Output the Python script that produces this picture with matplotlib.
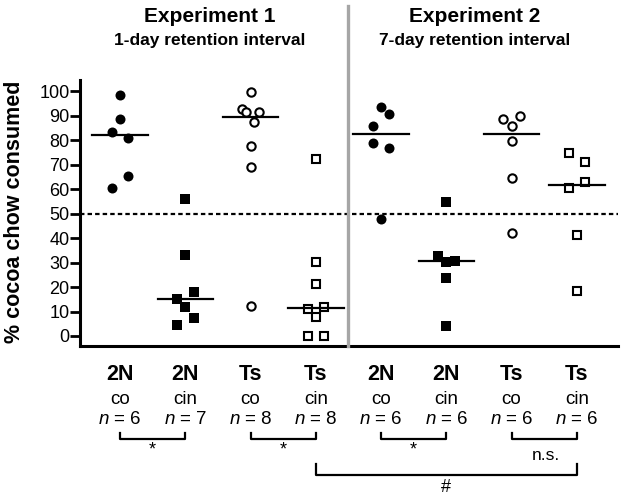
import matplotlib
matplotlib.use("Agg")
import matplotlib.pyplot as plt
from matplotlib.transforms import blended_transform_factory
from matplotlib.lines import Line2D

plt.rcParams["font.family"] = ["Liberation Sans", "DejaVu Sans"]
plt.rcParams["mathtext.fontset"] = "custom"
plt.rcParams["mathtext.rm"] = "Liberation Sans"
plt.rcParams["mathtext.it"] = "Liberation Sans:italic"

# --- data (% cocoa chow consumed per animal) ---
genotype = ["2N", "2N", "Ts", "Ts", "2N", "2N", "Ts", "Ts"]
treatment = ["co", "cin", "co", "cin", "co", "cin", "co", "cin"]
n_animals = [6, 7, 8, 8, 6, 6, 6, 6]

exp1_2n_co = [98.6, 88.8, 83.3, 81.1, 65.4, 60.4]
exp1_2n_cin = [55.9, 33.1, 18.1, 15.1, 11.9, 7.2, 4.6]
exp1_ts_co = [99.9, 92.8, 91.7, 91.5, 87.7, 77.7, 69.0, 12.3]
exp1_ts_cin = [72.4, 30.1, 21.3, 10.9, 11.7, 7.6, 0.0, 0.0]
exp2_2n_co = [93.5, 90.8, 86.0, 79.1, 76.8, 47.9]
exp2_2n_cin = [54.8, 32.7, 30.4, 30.8, 23.6, 4.0]
exp2_ts_co = [88.8, 90.0, 85.9, 79.6, 64.7, 42.3]
exp2_ts_cin = [75.0, 71.3, 62.8, 60.7, 41.4, 18.4]

groups = [exp1_2n_co, exp1_2n_cin, exp1_ts_co, exp1_ts_cin,
          exp2_2n_co, exp2_2n_cin, exp2_ts_co, exp2_ts_cin]
medians = [82.2, 15.1, 89.6, 11.3, 82.6, 30.6, 82.7, 61.8]

# horizontal scatter offsets (in units of one jitter step)
jitter = [
    [0, 0, -1, 1, 1, -1],
    [0, 0, 1, -1, 0, 1, -1],
    [0, -1, 1, -0.6, 0.4, 0, 0, 0],
    [0, 0, 0, -1, 1, 0, -1, 1],
    [0, 1, -1, -1, 1, 0],
    [0, -1, 0, 1, 0, 0],
    [-1, 1, 0, 0, 0, 0],
    [-1, 1, 1, -1, 0, 0],
]

# (left group, right group, label)
comparisons = [(1, 2, "*"), (3, 4, "*"), (5, 6, "*"), (7, 8, "n.s.")]

W, H = 626, 498
fig = plt.figure(figsize=(W / 100, H / 100), dpi=100)
ax = fig.add_axes([80 / W, 1 - 346 / H, 538 / W, 266 / H])


def fy(px):
    return 1 - px / H


styles = [
    dict(marker="o", ms=7.2, mfc="black", mec="black", mew=0),
    dict(marker="s", ms=6.8, mfc="black", mec="black", mew=0),
    dict(marker="o", ms=6.0, mfc="white", mec="black", mew=1.5),
    dict(marker="s", ms=5.8, mfc="white", mec="black", mew=1.5),
]

step = 0.127
for i, (vals, jit) in enumerate(zip(groups, jitter)):
    pos = i + 1
    xs = [pos + j * step for j in jit]
    st = styles[i % 4]
    ax.plot(xs, vals, linestyle="none", zorder=3, clip_on=False, **st)
    ax.plot([pos - 0.425, pos + 0.425], [medians[i]] * 2, color="black", lw=1.6, zorder=4)

ax.axhline(50, color="black", lw=1.6, dashes=(2.0, 1.4), zorder=2)

ax.set_xlim(0.387, 8.63)
ax.set_ylim(-4.1, 104.7)
ax.set_yticks(range(0, 101, 10))
ax.set_xticks([])
for s in ["top", "right"]:
    ax.spines[s].set_visible(False)
for s in ["left", "bottom"]:
    ax.spines[s].set_linewidth(2.2)
ax.tick_params(axis="y", length=7, width=2, labelsize=13, pad=0.5)

fig.text(15 / W, fy(212), "% cocoa chow consumed", rotation=90, ha="center",
         va="center", fontsize=15.5, fontweight="bold")

trans = blended_transform_factory(ax.transData, fig.transFigure)

# divider between experiments
fig.add_artist(Line2D([4.5, 4.5], [fy(6), fy(346)], transform=trans,
                      color="#a6a6a6", lw=2.4))

ax.text(2.38, fy(16), "Experiment 1", transform=trans, ha="center", va="center",
        fontsize=15, fontweight="bold")
ax.text(2.38, fy(40), "1-day retention interval", transform=trans, ha="center",
        va="center", fontsize=12.5, fontweight="bold")
ax.text(6.43, fy(16), "Experiment 2", transform=trans, ha="center", va="center",
        fontsize=15, fontweight="bold")
ax.text(6.43, fy(40), "7-day retention interval", transform=trans, ha="center",
        va="center", fontsize=12.5, fontweight="bold")

for i in range(8):
    pos = i + 1
    ax.text(pos, fy(374), genotype[i], transform=trans, ha="center", va="center",
            fontsize=15.5, fontweight="bold")
    ax.text(pos, fy(399), treatment[i], transform=trans, ha="center", va="center",
            fontsize=13.5)
    ax.text(pos, fy(419), r"$\mathit{n}$ = %d" % n_animals[i], transform=trans,
            ha="center", va="center", fontsize=13.5)

for a, b, lab in comparisons:
    ax.plot([a, a, b, b], [fy(432.5), fy(439), fy(439), fy(432.5)], transform=trans,
            color="black", lw=1.6, clip_on=False)
    if lab == "*":
        ax.text((a + b) / 2, fy(450), lab, transform=trans, ha="center", va="center",
                fontsize=13)
    else:
        ax.text((a + b) / 2 + 0.03, fy(455), lab, transform=trans, ha="center",
                va="center", fontsize=12.5)

ax.plot([4, 4, 8, 8], [fy(464), fy(475), fy(475), fy(464)], transform=trans,
        color="black", lw=1.6, clip_on=False)
ax.text(6, fy(487), "#", transform=trans, ha="center", va="center", fontsize=13)

fig.savefig("out.png", dpi=100)
